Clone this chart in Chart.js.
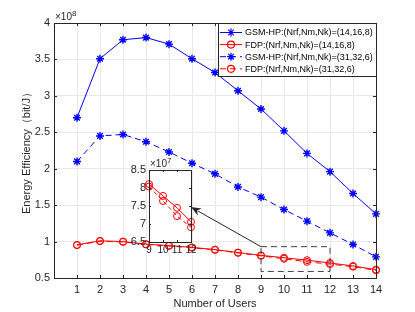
<!DOCTYPE html>
<html>
<head>
<meta charset="utf-8">
<script src="https://cdn.jsdelivr.net/npm/chart.js@4.4.1/dist/chart.umd.min.js"></script>
<style>
  html, body { margin: 0; padding: 0; background: #fff; }
  #wrap { position: relative; width: 415px; height: 312px; }
  #main { position: absolute; left: 0; top: 0; }
  #inset { position: absolute; left: 125px; top: 155px; }
</style>
</head>
<body>
<div id="wrap">
  <canvas id="main" width="415" height="312"></canvas>
  <canvas id="inset" width="75" height="103"></canvas>
</div>
<script>
// datos (unidades de 1e8 bit/J)
const users = [1, 2, 3, 4, 5, 6, 7, 8, 9, 10, 11, 12, 13, 14];
const gsmHp1 = [2.70, 3.51, 3.77, 3.80, 3.71, 3.51, 3.32, 3.07, 2.82, 2.52, 2.21, 1.96, 1.66, 1.38];
const fdp1 = [0.955, 1.01, 1.0, 0.965, 0.945, 0.92, 0.89, 0.85, 0.811, 0.778, 0.745, 0.706, 0.665, 0.615];
const gsmHp2 = [2.10, 2.45, 2.47, 2.37, 2.23, 2.075, 1.93, 1.75, 1.61, 1.44, 1.28, 1.12, 0.96, 0.79];
const fdp2 = [0.95, 1.005, 0.995, 0.96, 0.94, 0.915, 0.885, 0.845, 0.804, 0.764, 0.722, 0.691, 0.655, 0.605];
const seriesNames = [
  'GSM-HP:(Nrf,Nm,Nk)=(14,16,8)',
  'FDP:(Nrf,Nm,Nk)=(14,16,8)',
  'GSM-HP:(Nrf,Nm,Nk)=(31,32,6)',
  'FDP:(Nrf,Nm,Nk)=(31,32,6)'
];
const insetUsers = [9, 10, 11, 12];

Chart.defaults.font.family = "'Liberation Sans', Arial, sans-serif";
Chart.defaults.font.size = 11;
Chart.defaults.color = '#262626';

const BLUE = '#0000ff';
const RED = '#ff0000';
const AXIS = '#262626';

function toPoints(xs, ys) {
  return xs.map((x, i) => ({ x: x, y: ys[i] }));
}

function drawMarker(ctx, style, x, y, color) {
  ctx.save();
  ctx.strokeStyle = color;
  ctx.lineWidth = 1.2;
  ctx.setLineDash([]);
  ctx.beginPath();
  if (style === 'star') {
    const r = 4;
    ctx.moveTo(x - r, y); ctx.lineTo(x + r, y);
    ctx.moveTo(x, y - r); ctx.lineTo(x, y + r);
    const d = r * 0.7;
    ctx.moveTo(x - d, y - d); ctx.lineTo(x + d, y + d);
    ctx.moveTo(x - d, y + d); ctx.lineTo(x + d, y - d);
  } else {
    ctx.arc(x, y, 3.5, 0, Math.PI * 2);
  }
  ctx.stroke();
  ctx.restore();
}

// borde de la caja y marcas hacia adentro (estilo MATLAB)
function boxTicks(len) {
  return {
    id: 'boxTicks',
    afterDatasetsDraw(chart) {
      const { ctx, chartArea: a, scales } = chart;
      ctx.save();
      ctx.strokeStyle = AXIS;
      ctx.lineWidth = 1;
      ctx.beginPath();
      scales.x.ticks.forEach(t => {
        const px = Math.round(scales.x.getPixelForValue(t.value)) + 0.5;
        ctx.moveTo(px, a.bottom); ctx.lineTo(px, a.bottom - len);
        ctx.moveTo(px, a.top); ctx.lineTo(px, a.top + len);
      });
      scales.y.ticks.forEach(t => {
        const py = Math.round(scales.y.getPixelForValue(t.value)) + 0.5;
        ctx.moveTo(a.left, py); ctx.lineTo(a.left + len, py);
        ctx.moveTo(a.right, py); ctx.lineTo(a.right - len, py);
      });
      ctx.stroke();
      ctx.strokeRect(Math.round(a.left) + 0.5, Math.round(a.top) + 0.5,
        Math.round(a.right - a.left), Math.round(a.bottom - a.top));
      ctx.restore();
    }
  };
}

function exponentLabel(exp, size) {
  return {
    id: 'exponentLabel',
    afterDraw(chart) {
      const { ctx, chartArea: a } = chart;
      ctx.save();
      ctx.fillStyle = AXIS;
      ctx.textBaseline = 'alphabetic';
      ctx.font = size + "px 'Liberation Sans', Arial, sans-serif";
      const base = '\u00d710';
      ctx.fillText(base, a.left + 1, a.top - 3);
      const w = ctx.measureText(base).width;
      ctx.font = Math.round(size * 0.75) + "px 'Liberation Sans', Arial, sans-serif";
      ctx.fillText(exp, a.left + 1 + w, a.top - 3 - size * 0.45);
      ctx.restore();
    }
  };
}

const whiteArea = {
  id: 'whiteArea',
  beforeDraw(chart) {
    const { ctx, chartArea: a } = chart;
    ctx.save();
    ctx.fillStyle = '#ffffff';
    ctx.fillRect(a.left, a.top, a.right - a.left, a.bottom - a.top);
    ctx.restore();
  }
};

// grafico insertado (zoom de usuarios 9-12, unidades de 1e7)
const inset = new Chart(document.getElementById('inset'), {
  type: 'line',
  data: {
    datasets: [
      {
        data: toPoints(insetUsers, insetUsers.map(u => fdp1[u - 1] * 10)),
        borderColor: RED, borderWidth: 1, pointStyle: 'circle', pointRadius: 3.5,
        pointBorderColor: RED, pointBackgroundColor: 'rgba(0,0,0,0)', pointBorderWidth: 1, clip: false
      },
      {
        data: toPoints(insetUsers, insetUsers.map(u => fdp2[u - 1] * 10)),
        borderColor: RED, borderWidth: 1, borderDash: [4, 3], pointStyle: 'circle', pointRadius: 3.5,
        pointBorderColor: RED, pointBackgroundColor: 'rgba(0,0,0,0)', pointBorderWidth: 1, clip: false
      }
    ]
  },
  options: {
    responsive: false,
    animation: false,
    events: [],
    layout: { padding: { left: 0, top: 15, right: 9, bottom: 0 } },
    plugins: { legend: { display: false }, tooltip: { enabled: false } },
    scales: {
      x: {
        type: 'linear', min: 9, max: 12,
        ticks: { stepSize: 1, padding: 2, maxRotation: 0, autoSkip: false, font: { size: 10 } },
        grid: { display: false, drawTicks: false },
        border: { display: false },
        afterFit: s => { s.height = 16; }
      },
      y: {
        min: 6.5, max: 8.5,
        ticks: { stepSize: 0.5, padding: 3, autoSkip: false, font: { size: 11 }, callback: v => String(v) },
        grid: { display: false, drawTicks: false },
        border: { display: false },
        afterFit: s => { s.width = 24; }
      }
    }
  },
  plugins: [whiteArea, boxTicks(2), exponentLabel('7', 10)]
});

// rectangulo de zoom, flecha y leyenda
const annotations = {
  id: 'annotations',
  afterDraw(chart) {
    const { ctx, chartArea: a, scales } = chart;
    const x = scales.x, y = scales.y;
    ctx.save();
    // rectangulo discontinuo
    const rx1 = x.getPixelForValue(9), rx2 = x.getPixelForValue(12);
    const ry1 = y.getPixelForValue(0.93), ry2 = y.getPixelForValue(0.59);
    ctx.strokeStyle = '#404040';
    ctx.lineWidth = 1;
    ctx.setLineDash([6, 4]);
    ctx.strokeRect(rx1, ry1, rx2 - rx1, ry2 - ry1);
    ctx.setLineDash([]);
    // flecha hacia el grafico insertado
    const insetEl = document.getElementById('inset');
    const tx = inset.chartArea.right + insetEl.offsetLeft;
    const ty = inset.scales.y.getPixelForValue(7.47) + insetEl.offsetTop;
    const ang = Math.atan2(ty - ry1, tx - rx1);
    ctx.strokeStyle = '#262626';
    ctx.fillStyle = '#262626';
    ctx.beginPath();
    ctx.moveTo(rx1, ry1);
    ctx.lineTo(tx - 8 * Math.cos(ang), ty - 8 * Math.sin(ang));
    ctx.stroke();
    ctx.beginPath();
    ctx.moveTo(tx, ty);
    ctx.lineTo(tx - 10 * Math.cos(ang) + 4 * Math.sin(ang), ty - 10 * Math.sin(ang) - 4 * Math.cos(ang));
    ctx.lineTo(tx - 7 * Math.cos(ang), ty - 7 * Math.sin(ang));
    ctx.lineTo(tx - 10 * Math.cos(ang) - 4 * Math.sin(ang), ty - 10 * Math.sin(ang) + 4 * Math.cos(ang));
    ctx.closePath();
    ctx.fill();

    // leyenda
    const bw = 158, bh = 53;
    const bx = a.right - bw, by = a.top;
    ctx.fillStyle = '#ffffff';
    ctx.fillRect(bx, by, bw, bh);
    ctx.strokeStyle = AXIS;
    ctx.lineWidth = 1;
    ctx.strokeRect(Math.round(bx) + 0.5, Math.round(by) + 0.5, bw, bh);
    ctx.font = "9px 'Liberation Sans', Arial, sans-serif";
    ctx.textBaseline = 'middle';
    chart.data.datasets.forEach((ds, i) => {
      const cy = by + 9.5 + i * 12.1;
      ctx.strokeStyle = ds.borderColor;
      ctx.lineWidth = 1;
      ctx.setLineDash(ds.borderDash || []);
      ctx.beginPath();
      ctx.moveTo(bx + 2, cy);
      ctx.lineTo(bx + 24, cy);
      ctx.stroke();
      ctx.setLineDash([]);
      drawMarker(ctx, ds.pointStyle, bx + 13, cy, ds.borderColor);
      ctx.fillStyle = '#000000';
      ctx.fillText(ds.label, bx + 27, cy + 0.5);
    });
    ctx.restore();
  }
};

new Chart(document.getElementById('main'), {
  type: 'line',
  data: {
    datasets: [
      {
        label: seriesNames[0], data: toPoints(users, gsmHp1),
        borderColor: BLUE, borderWidth: 1, pointStyle: 'star', pointRadius: 4,
        pointBorderColor: BLUE, pointBorderWidth: 1.4, clip: false
      },
      {
        label: seriesNames[1], data: toPoints(users, fdp1),
        borderColor: RED, borderWidth: 1, pointStyle: 'circle', pointRadius: 3.5,
        pointBorderColor: RED, pointBackgroundColor: 'rgba(0,0,0,0)', pointBorderWidth: 1, clip: false
      },
      {
        label: seriesNames[2], data: toPoints(users, gsmHp2),
        borderColor: BLUE, borderWidth: 1, borderDash: [6, 4], pointStyle: 'star', pointRadius: 4,
        pointBorderColor: BLUE, pointBorderWidth: 1.4, clip: false
      },
      {
        label: seriesNames[3], data: toPoints(users, fdp2),
        borderColor: RED, borderWidth: 1, borderDash: [6, 4], pointStyle: 'circle', pointRadius: 3.5,
        pointBorderColor: RED, pointBackgroundColor: 'rgba(0,0,0,0)', pointBorderWidth: 1, clip: false
      }
    ]
  },
  options: {
    responsive: false,
    animation: false,
    events: [],
    layout: { padding: { left: 18, top: 23, right: 39, bottom: 0 } },
    plugins: { legend: { display: false }, tooltip: { enabled: false } },
    scales: {
      x: {
        type: 'linear', min: 0, max: 14,
        ticks: { stepSize: 1, padding: 5, maxRotation: 0, autoSkip: false, callback: v => (v === 0 ? '' : String(v)) },
        grid: { color: '#e8e8e8', drawTicks: false },
        border: { display: false },
        title: { display: true, text: 'Number of Users', padding: { top: 0, bottom: 1 }, font: { size: 11 } },
        afterFit: s => { s.height = 34; }
      },
      y: {
        min: 0.5, max: 4,
        ticks: { stepSize: 0.5, padding: 4, callback: v => String(v) },
        grid: { color: '#e8e8e8', drawTicks: false },
        border: { display: false },
        title: { display: true, text: 'Energy Efficiency\uff08bit/J\uff09', padding: { top: 2, bottom: 0 }, font: { size: 11 } },
        afterFit: s => { s.width = 36; }
      }
    }
  },
  plugins: [boxTicks(3), exponentLabel('8', 10), annotations]
});
</script>
</body>
</html>
